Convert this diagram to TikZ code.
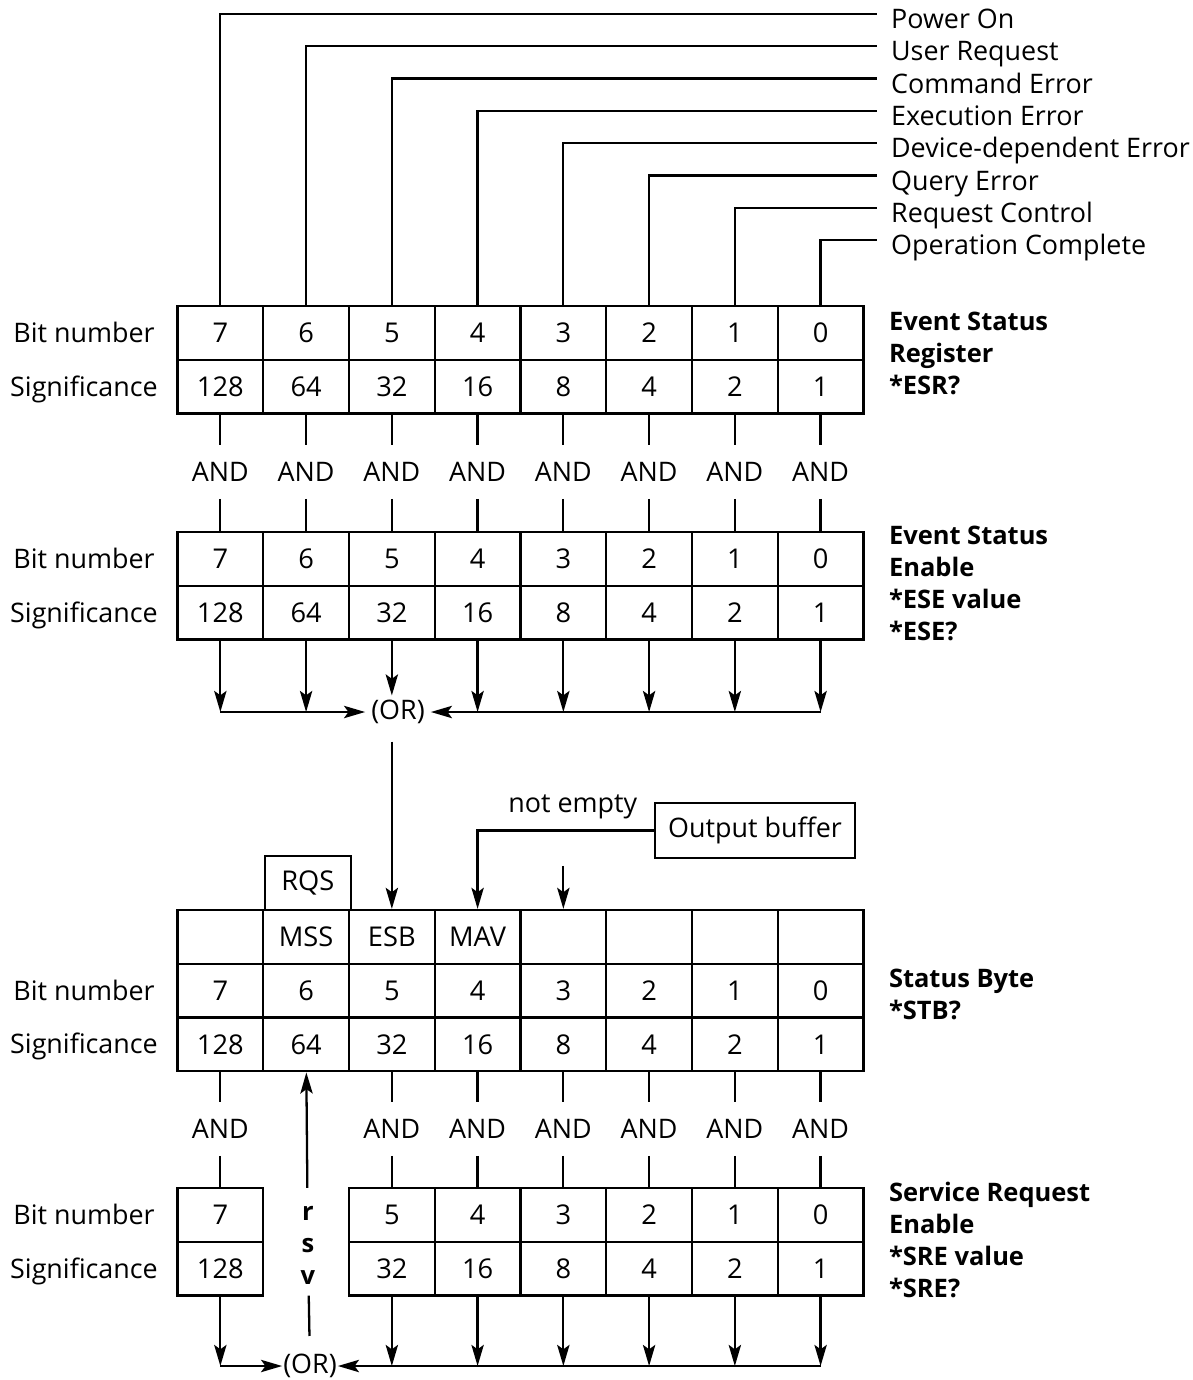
\documentclass[tikz,border=0pt]{standalone}
\usepackage{fontspec}
\setmainfont{Open Sans}
\usetikzlibrary{arrows.meta, positioning, calc}

\begin{document}
\begin{tikzpicture}[
    x=0.02cm, y=-0.02cm,
    line width=1.3pt,
    font=\fontsize{15.3}{17}\selectfont,
    cell/.style={draw, minimum width=1.715cm, minimum height=1.075cm,
                 inner sep=0pt, font=\fontsize{15.5}{17}\selectfont},
    gate/.style={inner xsep=0pt, inner ysep=0.32cm},
    ortxt/.style={inner xsep=0.1cm, inner ysep=2pt},
    evlbl/.style={anchor=west, inner xsep=0.26cm,
                  text height=16.6pt, text depth=0pt},
    rowlbl/.style={text height=10.9pt, text depth=0pt},
    title/.style={anchor=west, align=left,
                  font=\fontsize{14.5}{18.2}\selectfont\bfseries},
    arr/.style={-{Stealth[length=12pt, width=7pt, inset=2.5pt]}},
  ]
  \useasboundingbox (0,0) rectangle (1193,1380);

  % event status register and its enable register
  \foreach \b in {0,...,7} {
    \pgfmathtruncatemacro\sig{2^\b}
    \node[cell] (esrn\b) at (820.6-85.75*\b, 332.9) {\b};
    \node[cell] (esrs\b) at (820.6-85.75*\b, 386.6) {\sig};
    \node[gate] (and1\b) at (820.6-85.75*\b, 472) {AND};
    \node[cell] (esen\b) at (820.6-85.75*\b, 558.9) {\b};
    \node[cell] (eses\b) at (820.6-85.75*\b, 612.6) {\sig};
    \coordinate (esin\b) at (820.6-85.75*\b, 712);
    \draw (esrs\b) -- (and1\b) -- (esen\b);
  }

  % event names
  \foreach \b/\txt in {7/Power On, 6/User Request, 5/Command Error,
      4/Execution Error, 3/Device-dependent Error, 2/Query Error,
      1/Request Control, 0/Operation Complete} {
    \node[evlbl] (ev\b) at (877, 14+32.3*7-32.3*\b) {\txt};
    \draw (esrn\b) |- (ev\b);
  }

  % first OR
  \node[ortxt] (or1) at (398, 712) {(OR)};
  \foreach \b in {7,6,4,3,2,1,0}
    \draw[arr] (eses\b) -- (esin\b);
  \draw[arr] (eses5) -- (eses5 |- or1.north);
  \draw[arr] (esin7) -- (or1);
  \draw[arr] (esin0) -- (or1);

  % status byte
  \foreach \b/\nm in {7/{}, 6/MSS, 5/ESB, 4/MAV, 3/{}, 2/{}, 1/{}, 0/{}} {
    \pgfmathtruncatemacro\sig{2^\b}
    \node[cell] (sbm\b) at (820.6-85.75*\b, 936.9) {\nm};
    \node[cell] (sbn\b) at (820.6-85.75*\b, 990.6) {\b};
    \node[cell] (sbs\b) at (820.6-85.75*\b, 1044.4) {\sig};
  }
  \node[cell] (rqs) at (307.85, 883.1) {RQS};
  \draw[arr, shorten <=0.26cm] (or1.south -| sbm5) -- (sbm5);

  % output buffer
  \node[draw, minimum width=4cm, minimum height=1.1cm] (obuf)
      at (755, 830.5) {Output buffer};
  \draw[arr] (obuf.west) -| node[pos=0.23, above=0.1cm] {not empty} (sbm4);
  \coordinate (sbin3) at ([yshift=0.86cm]sbm3.north);
  \draw[arr] (sbin3) -- (sbm3);

  % service request enable
  \foreach \b in {7,5,4,3,2,1,0} {
    \pgfmathtruncatemacro\sig{2^\b}
    \node[gate] (and2\b) at (820.6-85.75*\b, 1129) {AND};
    \node[cell] (sren\b) at (820.6-85.75*\b, 1214.9) {\b};
    \node[cell] (sres\b) at (820.6-85.75*\b, 1268.6) {\sig};
    \coordinate (srin\b) at (820.6-85.75*\b, 1366);
    \draw (sbs\b) -- (and2\b) -- (sren\b);
    \draw[arr] (sres\b) -- (srin\b);
  }
  \node[align=center, font=\fontsize{14.5}{18.2}\selectfont\bfseries]
      (rsv) at (307.85, 1245) {r\\s\\v};
  \draw[arr, shorten <=0.22cm] (rsv) -- (sbs6);

  % second OR
  \node[ortxt, inner xsep=0pt] (or2) at (310, 1366) {(OR)};
  \draw[shorten <=0.09cm, shorten >=0.27cm] (rsv) -- (or2);
  \draw[arr] (srin7) -- (or2);
  \draw[arr] (srin0) -- (or2);

  % row names
  \foreach \nm/\ya/\yb in {esr/332.9/386.6, ese/558.9/612.6,
      sb/990.6/1044.4, sre/1214.9/1268.6} {
    \node[rowlbl] (\nm bit) at (84, \ya) {Bit number};
    \node[rowlbl] (\nm sig) at (84, \yb) {Significance};
  }

  % register names
  \node[title] (esrtitle) at (882, 353) {Event Status\\Register\\*ESR?};
  \node[title] (esetitle) at (882, 583)
      {Event Status\\Enable\\*ESE value\\*ESE?};
  \node[title] (sbtitle) at (882, 994) {Status Byte\\*STB?};
  \node[title] (sretitle) at (882, 1240)
      {Service Request\\Enable\\*SRE value\\*SRE?};
\end{tikzpicture}
\end{document}
